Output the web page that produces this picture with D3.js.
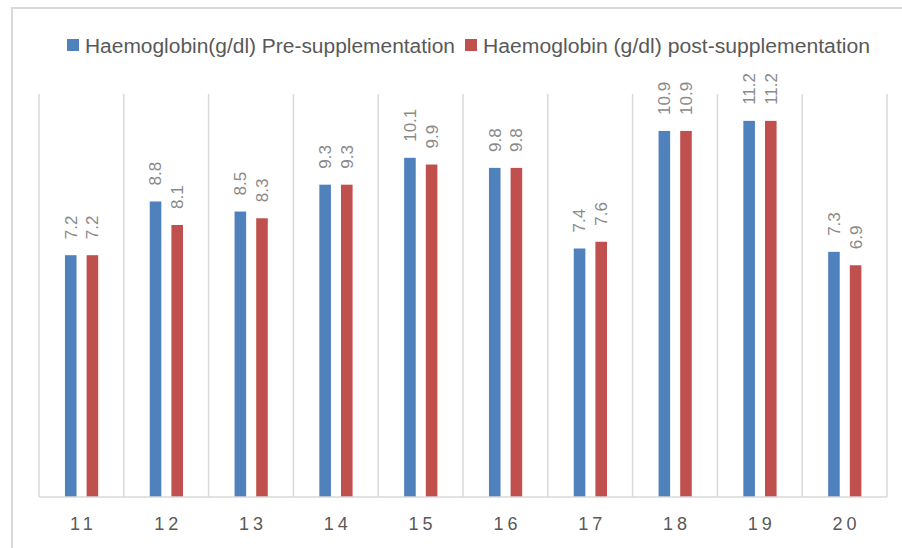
<!DOCTYPE html>
<html>
<head>
<meta charset="utf-8">
<script src="https://cdn.jsdelivr.net/npm/d3@7"></script>
<style>
  html, body { margin: 0; padding: 0; background: #fff; }
  svg { display: block; }
</style>
</head>
<body>
<svg id="chart" width="902" height="548"></svg>
<script>
const categories = ["11", "12", "13", "14", "15", "16", "17", "18", "19", "20"];
const seriesNames = ["Haemoglobin(g/dl) Pre-supplementation", "Haemoglobin (g/dl) post-supplementation"];
const preValues  = [7.2, 8.8, 8.5, 9.3, 10.1, 9.8, 7.4, 10.9, 11.2, 7.3];
const postValues = [7.2, 8.1, 8.3, 9.3, 9.9, 9.8, 7.6, 10.9, 11.2, 6.9];
const colors = ["#4F81BD", "#C0504D"];
const yMax = 12;

const svg = d3.select("#chart");
const W = 902, H = 548;
const plot = { left: 39, right: 887, top: 94, bottom: 497 };

// Outer chart border (extends off the right/bottom edge)
svg.append("rect")
  .attr("x", 12).attr("y", 8)
  .attr("width", W + 20).attr("height", H + 20)
  .attr("fill", "#fff")
  .attr("stroke", "#D9D9D9").attr("stroke-width", 2);

const x0 = d3.scaleBand().domain(categories).range([plot.left, plot.right]).padding(0);
const bw = x0.bandwidth();
const x1 = d3.scaleBand().domain([0, 1])
  .range([bw * 0.306, bw * 0.698]).paddingInner(0.465).paddingOuter(0);
const y = d3.scaleLinear().domain([0, yMax]).range([plot.bottom, plot.top]);

// Vertical gridlines at category boundaries
const bounds = categories.map(c => x0(c)).concat([x0(categories[categories.length - 1]) + bw]);
svg.append("g").selectAll("line").data(bounds).join("line")
  .attr("x1", d => d).attr("x2", d => d)
  .attr("y1", y(yMax)).attr("y2", y(0))
  .attr("stroke", "#D9D9D9").attr("stroke-width", 1.5);

// Bars
const data = categories.map((c, i) => ({ c, vals: [preValues[i], postValues[i]] }));
const groups = svg.append("g").selectAll("g").data(data).join("g")
  .attr("transform", d => `translate(${x0(d.c)},0)`);

groups.selectAll("rect").data(d => d.vals.map((v, s) => ({ v, s }))).join("rect")
  .attr("x", d => x1(d.s))
  .attr("width", x1.bandwidth())
  .attr("y", d => y(d.v))
  .attr("height", d => y(0) - y(d.v))
  .attr("fill", d => colors[d.s]);

// Value labels (rotated)
groups.selectAll("text").data(d => d.vals.map((v, s) => ({ v, s }))).join("text")
  .attr("transform", d => `translate(${x1(d.s) + x1.bandwidth() / 2},${y(d.v) - 16}) rotate(-90)`)
  .attr("dy", "0.35em")
  .attr("text-anchor", "start")
  .attr("font-family", "'Liberation Sans', Arial, sans-serif")
  .attr("font-size", 17)
  .attr("fill", "#8a8a8a")
  .text(d => d.v.toFixed(1));

// Baseline axis
svg.append("line")
  .attr("x1", plot.left).attr("x2", plot.right)
  .attr("y1", y(0)).attr("y2", y(0))
  .attr("stroke", "#D9D9D9").attr("stroke-width", 1.5);

// X axis labels via d3 axis
const xAxis = svg.append("g")
  .attr("transform", `translate(0,${y(0)})`)
  .call(d3.axisBottom(x0).tickSize(0).tickPadding(0));
xAxis.select(".domain").remove();
xAxis.selectAll("text")
  .attr("dy", null)
  .attr("y", 33)
  .attr("dx", 2)
  .attr("font-family", "'Liberation Sans', Arial, sans-serif")
  .attr("font-size", 18)
  .attr("letter-spacing", 4)
  .attr("fill", "#595959");

// Legend
const legendItems = [
  { sq: 67, tx: 85, len: 370 },
  { sq: 465, tx: 483, len: 387 }
];
const legend = svg.append("g");
legendItems.forEach((it, i) => {
  legend.append("rect")
    .attr("x", it.sq).attr("y", 39).attr("width", 12).attr("height", 12)
    .attr("fill", colors[i]);
  legend.append("text")
    .attr("x", it.tx).attr("y", 53)
    .attr("font-family", "'Liberation Sans', Arial, sans-serif")
    .attr("font-size", 20)
    .attr("fill", "#595959")
    .attr("textLength", it.len)
    .attr("lengthAdjust", "spacingAndGlyphs")
    .text(seriesNames[i]);
});
</script>
</body>
</html>
